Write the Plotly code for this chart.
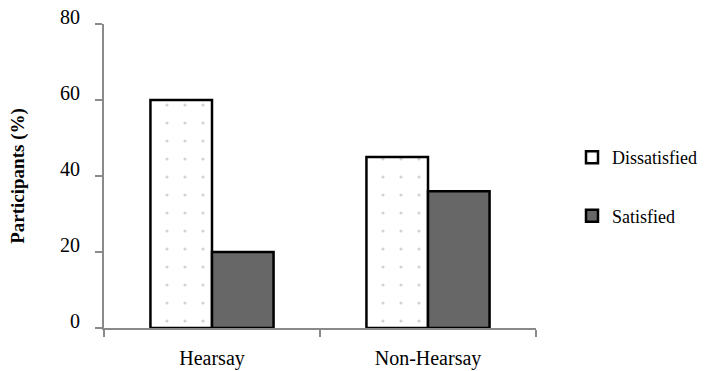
import plotly.graph_objects as go

categories = ["Hearsay", "Non-Hearsay"]
dissatisfied = [60, 45]
satisfied = [20, 36]
y_ticks = [0, 20, 40, 60, 80]

FONT = "Liberation Serif"

fig = go.Figure()
fig.add_trace(go.Bar(
    x=categories, y=dissatisfied, name="Dissatisfied", legendgroup="d",
    marker=dict(color="white", line=dict(color="black", width=2.5),
                pattern=dict(shape=".", fgcolor="#a8a8a8", bgcolor="white",
                             size=18, solidity=0.025)),
))
fig.add_trace(go.Bar(
    x=categories, y=satisfied, name="Satisfied", legendgroup="s",
    marker=dict(color="#676767", line=dict(color="black", width=2.5)),
))

fig.update_layout(
    width=716, height=371,
    margin=dict(l=104, r=180, t=24, b=43),
    paper_bgcolor="white", plot_bgcolor="white",
    barmode="group", bargap=0.43, bargroupgap=0,
    font=dict(family=FONT, size=20, color="black"),
    legend=dict(x=(572 - 104) / 432 - 1, y=0.465, xanchor="left", yanchor="middle",
                font=dict(size=18), tracegroupgap=32,
                itemwidth=30),
    showlegend=True,
)
fig.update_layout(legend_x=(572 - 104) / 432)
fig.update_xaxes(
    type="category", range=[-0.5, 1.5], tickson="boundaries",
    showline=True, linecolor="#8a8a8a", linewidth=2,
    ticks="outside", ticklen=7, tickcolor="#8a8a8a", tickwidth=2,
    showgrid=False, zeroline=False, ticklabelstandoff=11, automargin=False,
)
fig.update_yaxes(
    range=[0, 80], tickvals=y_ticks,
    showline=True, linecolor="#8a8a8a", linewidth=2,
    ticks="outside", ticklen=7, tickcolor="#8a8a8a", tickwidth=2,
    showgrid=False, zeroline=False, ticklabelstandoff=11, ticklabelshift=-7,
    automargin=False,
    title=dict(text="<b>Participants (%)</b>", standoff=30,
               font=dict(size=19)),
)

fig.write_html("out.html")
